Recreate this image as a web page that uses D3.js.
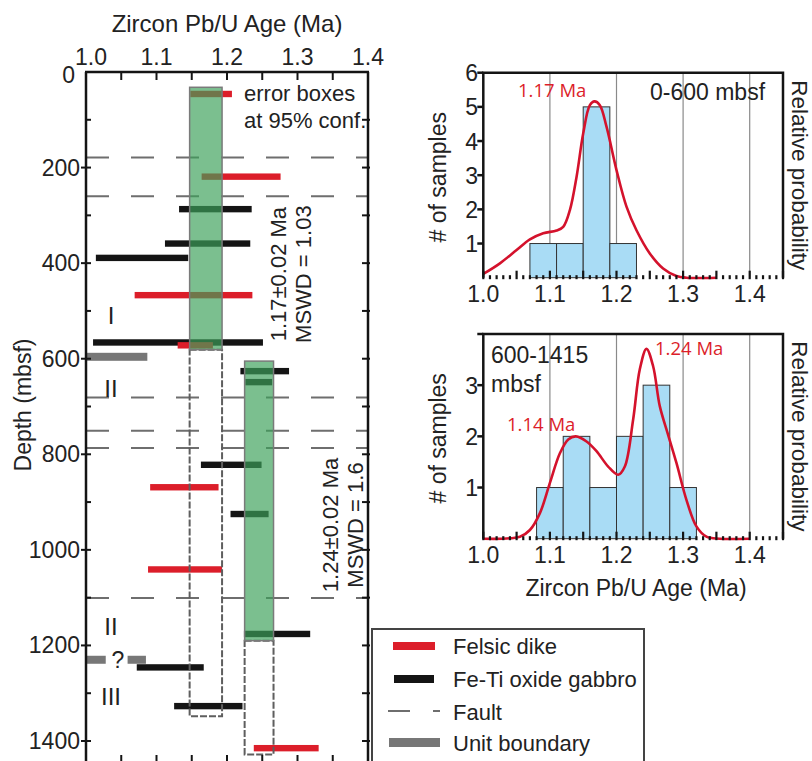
<!DOCTYPE html>
<html><head><meta charset="utf-8">
<script src="https://cdn.jsdelivr.net/npm/d3@7/dist/d3.min.js"></script>
<style>
html,body{margin:0;padding:0;background:#fff;}
svg{display:block;font-family:"Liberation Sans",Arial,sans-serif;}
</style></head>
<body><svg id="c" width="812" height="761" font-family="Liberation Sans, Arial, sans-serif"></svg>
<script>
// ---------- DATA ----------
// Left panel: [depth (mbsf), age min (Ma), age max (Ma)]
const felsicDikes = [[46,1.148,1.207],[219,1.164,1.276],[467,1.069,1.236],[572,1.130,1.180],[869,1.091,1.188],[1041,1.088,1.193],[1415,1.238,1.330]];
const gabbros = [[287,1.132,1.235],[359,1.112,1.233],[389,1.014,1.145],[566,1.010,1.251],[626,1.219,1.288],[649,1.226,1.264],[822,1.163,1.249],[925,1.205,1.259],[1176,1.224,1.318],[1246,1.072,1.167],[1327,1.125,1.222]];
const faults = [179,260,681,751,787,1101];
// unit boundaries: [depth, age min, age max]
const unitBoundaries = [[596,1.0,1.087],[1230,1.0,1.028],[1230,1.059,1.085]];
const unitLabels = [["I",508],["II",661],["II",1159],["III",1306]];
// weighted mean boxes: [age min, age max, depth top, depth bottom (green), depth bottom (dashed)]
const meanBoxes = [[1.147,1.193,32,581,1348],[1.225,1.266,605,1190,1428]];
const meanLabels = [["1.17±0.02 Ma","MSWD = 1.03",423],["1.24±0.02 Ma","MSWD = 1.6",948]];
const ageTicks = [1.0,1.1,1.2,1.3,1.4];
const depthTicks = [0,200,400,600,800,1000,1200,1400];

// Histograms (bin width 0.04 Ma)
const binsTop = [[1.07,1.11,1],[1.11,1.15,1],[1.15,1.19,5],[1.19,1.23,1]];
const curveTopAge = [1.0,1.025,1.05,1.07,1.09,1.11,1.12,1.13,1.14,1.15,1.16,1.167,1.175,1.185,1.2,1.215,1.23,1.25,1.27,1.29,1.305,1.35];
const curveTopVal = [0.11,0.42,0.81,1.12,1.3,1.38,1.49,1.98,2.95,4.22,5.05,5.16,5.05,4.42,3.15,2.08,1.39,0.71,0.27,0.05,0.0,0.0];
const binsBot = [[1.08,1.12,1],[1.12,1.16,2],[1.16,1.20,1],[1.20,1.24,2],[1.24,1.28,3],[1.28,1.32,1]];
const curveBotAge = [1.0,1.055,1.07,1.085,1.1,1.115,1.1275,1.139,1.155,1.17,1.1875,1.2025,1.2125,1.225,1.235,1.245,1.255,1.265,1.2775,1.29,1.305,1.32,1.335,1.355,1.4];
const curveBotVal = [0.0,0.04,0.17,0.5,1.09,1.67,1.94,2.0,1.9,1.71,1.41,1.25,1.41,2.33,3.31,3.71,3.37,2.59,2.03,1.48,0.76,0.24,0.04,0.0,0.0];
const histAgeTicks = [1.0,1.1,1.2,1.3,1.4];
const topCountTicks = [1,2,3,4,5,6];
const botCountTicks = [1,2,3];

// ---------- DRAW ----------
const svg = d3.select("#c");
const RED = "#dc1e2a", BLACK = "#141414", GRAY = "#6e6e6e", FS = 22;

// Left panel scales
const xL = d3.scaleLinear().domain([1.0,1.4]).range([86,368]);
const yL = d3.scaleLinear().domain([0,1400]).range([72,741]);
const bottomY = 763;

const L = svg.append("g");
// faults
L.selectAll(".fault").data(faults).join("line")
  .attr("x1",xL(1.0)).attr("x2",xL(1.4)).attr("y1",d=>yL(d)).attr("y2",d=>yL(d))
  .attr("stroke",GRAY).attr("stroke-width",2).attr("stroke-dasharray","23,22");
// unit boundaries
L.selectAll(".ub").data(unitBoundaries).join("rect")
  .attr("x",d=>xL(d[1])).attr("width",d=>xL(d[2])-xL(d[1]))
  .attr("y",d=>yL(d[0])-4).attr("height",8).attr("fill","#777");
// bars
function bars(data,color){
  L.selectAll(null).data(data).join("rect")
   .attr("x",d=>xL(d[1])).attr("width",d=>xL(d[2])-xL(d[1]))
   .attr("y",d=>yL(d[0])-3.2).attr("height",6.4).attr("fill",color);
}
bars(gabbros,BLACK);
bars(felsicDikes,RED);
// dashed extensions of boxes
L.selectAll(".db").data(meanBoxes).join("rect")
  .attr("x",d=>xL(d[0])).attr("width",d=>xL(d[1])-xL(d[0]))
  .attr("y",d=>yL(d[3])).attr("height",d=>yL(d[4])-yL(d[3]))
  .attr("fill","none").attr("stroke","#5e5e5e").attr("stroke-width",2).attr("stroke-dasharray","7,2");
// green boxes
L.selectAll(".gb").data(meanBoxes).join("rect")
  .attr("x",d=>xL(d[0])).attr("width",d=>xL(d[1])-xL(d[0]))
  .attr("y",d=>yL(d[2])).attr("height",d=>yL(d[3])-yL(d[2]))
  .attr("fill","rgb(60,160,90)").attr("fill-opacity",0.68)
  .attr("stroke","#7a7a7a").attr("stroke-width",1.5);

// axes frame
const frame = svg.append("g").attr("stroke",BLACK).attr("stroke-width",2.5).attr("fill","none");
frame.append("line").attr("x1",xL(1.0)).attr("x2",xL(1.0)).attr("y1",yL(0)).attr("y2",bottomY);
frame.append("line").attr("x1",xL(1.4)).attr("x2",xL(1.4)).attr("y1",yL(0)).attr("y2",bottomY);
frame.append("line").attr("x1",xL(1.0)-1).attr("x2",xL(1.4)+1).attr("y1",yL(0)).attr("y2",yL(0));

// top & bottom ticks every 0.05
const ageMinor = d3.range(1.05,1.4,0.05);
svg.append("g").selectAll("line").data(ageMinor).join("line")
  .attr("x1",d=>xL(d)).attr("x2",d=>xL(d)).attr("y1",yL(0)).attr("y2",yL(0)+8)
  .attr("stroke",BLACK).attr("stroke-width",2);
svg.append("g").selectAll("line").data(ageMinor).join("line")
  .attr("x1",d=>xL(d)).attr("x2",d=>xL(d)).attr("y1",bottomY-8).attr("y2",bottomY)
  .attr("stroke",BLACK).attr("stroke-width",2);
// depth ticks every 100
const depthMinor = d3.range(100,1401,100);
svg.append("g").selectAll("line").data(depthMinor).join("line")
  .attr("x1",d=>d%200===0?xL(1.0)-5:xL(1.0)).attr("x2",xL(1.0)+5)
  .attr("y1",d=>yL(d)).attr("y2",d=>yL(d)).attr("stroke",BLACK).attr("stroke-width",2);
svg.append("g").selectAll("line").data(depthMinor).join("line")
  .attr("x1",xL(1.4)-6).attr("x2",xL(1.4)+2)
  .attr("y1",d=>yL(d)).attr("y2",d=>yL(d)).attr("stroke",BLACK).attr("stroke-width",2);

// tick labels
svg.append("g").selectAll("text").data(ageTicks).join("text")
  .attr("x",d=>xL(d)+(d===1.0?5:0)).attr("y",65).attr("text-anchor","middle")
  .attr("font-size",23).attr("fill","#222").text(d=>d.toFixed(1));
svg.append("g").selectAll("text").data(depthTicks).join("text")
  .attr("x",d=>d===0?75:80).attr("y",d=>yL(d)+(d===0?11:8)).attr("text-anchor","end")
  .attr("font-size",23).attr("fill","#222").text(d=>d);
svg.append("text").attr("x",227).attr("y",32).attr("text-anchor","middle")
  .attr("font-size",24).attr("fill","#222").text("Zircon Pb/U Age (Ma)");
svg.append("text").attr("transform","translate(31,405) rotate(-90)").attr("text-anchor","middle")
  .attr("font-size",23).attr("fill","#222").text("Depth (mbsf)");

// unit labels
svg.append("g").selectAll("text").data(unitLabels).join("text")
  .attr("x",111).attr("y",d=>yL(d[1])+9).attr("text-anchor","middle")
  .attr("font-size",24).attr("fill","#222").text(d=>d[0]);
svg.append("text").attr("x",118).attr("y",yL(1230)+8).attr("text-anchor","middle")
  .attr("font-size",23).attr("fill","#222").text("?");

// box annotations
svg.append("text").attr("x",244).attr("y",101).attr("font-size",FS).attr("fill","#222").text("error boxes");
svg.append("text").attr("x",244).attr("y",128).attr("font-size",FS).attr("fill","#222").text("at 95% conf.");
meanLabels.forEach((m,i)=>{
  const bx = xL(meanBoxes[i][1]);
  svg.append("text").attr("transform",`translate(${bx+64},${yL(m[2])}) rotate(-90)`)
    .attr("text-anchor","middle").attr("font-size",FS).attr("fill","#222").text(m[0]);
  svg.append("text").attr("transform",`translate(${bx+89},${yL(m[2])}) rotate(-90)`)
    .attr("text-anchor","middle").attr("font-size",FS).attr("fill","#222").text(m[1]);
});

// legend
const lg = svg.append("g");
lg.append("rect").attr("x",372).attr("y",629).attr("width",272).attr("height",150)
  .attr("fill","#fff").attr("stroke","#444").attr("stroke-width",2);
lg.append("rect").attr("x",393).attr("y",642).attr("width",42).attr("height",8).attr("fill",RED);
lg.append("rect").attr("x",394).attr("y",675).attr("width",40).attr("height",8).attr("fill",BLACK);
lg.append("line").attr("x1",388).attr("x2",410).attr("y1",711).attr("y2",711).attr("stroke",GRAY).attr("stroke-width",2);
lg.append("line").attr("x1",433).attr("x2",440).attr("y1",711).attr("y2",711).attr("stroke",GRAY).attr("stroke-width",2);
lg.append("rect").attr("x",389).attr("y",738).attr("width",51).attr("height",9).attr("fill","#777");
[["Felsic dike",654],["Fe-Ti oxide gabbro",687],["Fault",720],["Unit boundary",751]].forEach(t=>{
  lg.append("text").attr("x",453).attr("y",t[1]).attr("font-size",FS).attr("fill","#222").text(t[0]);
});

// ---------- Histograms ----------
const xH = d3.scaleLinear().domain([1.0,1.45]).range([483.3,783]);
function histogram(bins, ages, vals, yDomain, yRange, countTicks){
  const yH = d3.scaleLinear().domain(yDomain).range(yRange);
  const g = svg.append("g");
  const y0 = yH(yDomain[0]), y1 = yH(yDomain[1]);
  // grid
  g.selectAll(".grid").data([1.1,1.2,1.3,1.4]).join("line")
    .attr("x1",d=>xH(d)).attr("x2",d=>xH(d)).attr("y1",y1).attr("y2",y0)
    .attr("stroke","#8a8a8a").attr("stroke-width",1.2);
  // bars
  g.selectAll(".bar").data(bins).join("rect")
    .attr("x",d=>xH(d[0])).attr("width",d=>xH(d[1])-xH(d[0]))
    .attr("y",d=>yH(d[2])).attr("height",d=>y0-yH(d[2]))
    .attr("fill","#a9dcf5").attr("stroke","#333").attr("stroke-width",1);
  // curve
  const line = d3.line().x(d=>xH(d[0])).y(d=>yH(d[1])).curve(d3.curveCatmullRom.alpha(0.5));
  g.append("path").datum(ages.map((a,i)=>[a,vals[i]])).attr("d",line)
    .attr("fill","none").attr("stroke","#d4122c").attr("stroke-width",2.6);
  // frame
  g.append("path").attr("d",`M${xH(1.0)},${y0}V${y1}H${xH(1.45)}V${y0}`)
    .attr("fill","none").attr("stroke",BLACK).attr("stroke-width",2.5);
  // bottom dotted axis: minor ticks each 0.01
  const minor = d3.range(0,46).map(i=>1.0+i*0.01);
  g.selectAll(".mt").data(minor).join("line")
    .attr("x1",d=>xH(d)).attr("x2",d=>xH(d))
    .attr("y1",(d,i)=>i%5===0?y0-7:y0-2.5).attr("y2",y0+1.5)
    .attr("stroke",BLACK).attr("stroke-width",2.2);
  // y ticks
  g.selectAll(".yt").data(d3.range(1,yDomain[1]+1)).join("line")
    .attr("x1",xH(1.0)-6).attr("x2",xH(1.0)).attr("y1",d=>yH(d)).attr("y2",d=>yH(d))
    .attr("stroke",BLACK).attr("stroke-width",2.5);
  g.selectAll(".yl").data(countTicks).join("text")
    .attr("x",478).attr("y",d=>yH(d)+8.5).attr("text-anchor","end")
    .attr("font-size",23).attr("fill","#222").text(d=>d);
  g.selectAll(".xl").data(histAgeTicks).join("text")
    .attr("x",d=>xH(d)).attr("y",y0+24).attr("text-anchor","middle")
    .attr("font-size",23).attr("fill","#222").text(d=>d.toFixed(1));
  const cy = (y0+y1)/2;
  g.append("text").attr("transform",`translate(446,${cy+2}) rotate(-90)`).attr("text-anchor","middle")
    .attr("font-size",23).attr("fill","#222").text("# of samples");
  g.append("text").attr("transform",`translate(792,${cy}) rotate(90)`).attr("text-anchor","middle")
    .attr("font-size",22.5).attr("fill","#222").text("Relative probability");
  return yH;
}
histogram(binsTop, curveTopAge, curveTopVal, [0,6], [277.7,72.7], topCountTicks);
histogram(binsBot, curveBotAge, curveBotVal, [0,4], [538.7,334], botCountTicks);

const redFont = "'Open Sans', sans-serif";
svg.append("text").attr("x",518).attr("y",97).attr("font-family",redFont).attr("font-size",18.5).attr("fill",RED).text("1.17 Ma");
svg.append("text").attr("x",655).attr("y",355).attr("font-family",redFont).attr("font-size",18.5).attr("fill",RED).text("1.24 Ma");
svg.append("text").attr("x",507).attr("y",431).attr("font-family",redFont).attr("font-size",18.5).attr("fill",RED).text("1.14 Ma");
svg.append("text").attr("x",650).attr("y",100).attr("font-size",23).attr("fill","#222").text("0-600 mbsf");
svg.append("text").attr("x",491).attr("y",363).attr("font-size",23).attr("fill","#222").text("600-1415");
svg.append("text").attr("x",491).attr("y",392).attr("font-size",23).attr("fill","#222").text("mbsf");
svg.append("text").attr("x",636).attr("y",596).attr("text-anchor","middle").attr("font-size",23).attr("fill","#222").text("Zircon Pb/U Age (Ma)");
</script></body></html>
